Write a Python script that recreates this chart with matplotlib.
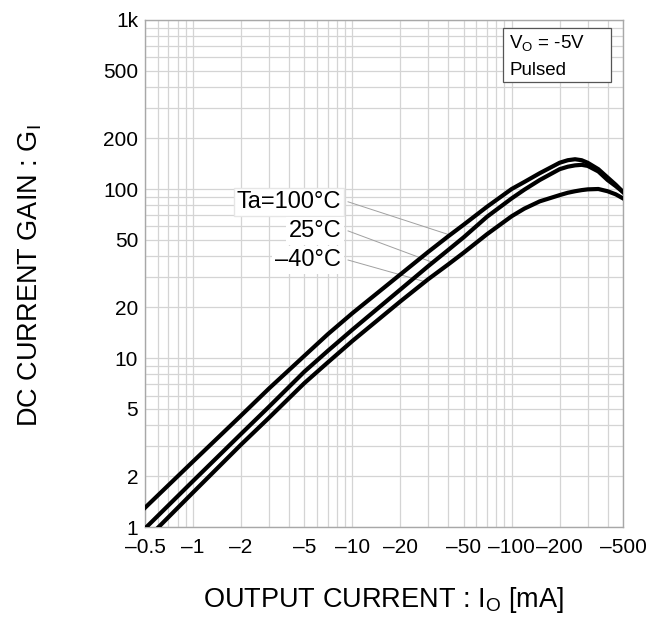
import numpy as np
import matplotlib
matplotlib.use('Agg')
import matplotlib.pyplot as plt
from matplotlib.patches import Rectangle
from matplotlib.ticker import FixedLocator, NullFormatter

plt.rcParams['font.family'] = ['Liberation Sans', 'DejaVu Sans']
plt.rcParams['mathtext.fontset'] = 'custom'
plt.rcParams['mathtext.rm'] = 'Liberation Sans'
plt.rcParams['mathtext.it'] = 'Liberation Sans'

# output current |Io| in mA
io = [0.5, 1, 2, 3, 5, 7, 10, 20, 30, 40, 50, 70, 100, 120, 150, 200,
      225, 250, 275, 300, 350, 400, 450, 500]
gain_100 = [1.3, 2.44, 4.56, 6.6, 10.3, 13.8, 18.4, 31.2, 42.5, 52.5, 61.5, 78.5, 100, 110,
            124, 143, 148, 150, 148, 143, 131, 117, 106, 96]
gain_25 = [0.98, 1.87, 3.55, 5.15, 8.3, 11.0, 14.7, 25.4, 35.0, 43.6, 51.8, 68.5, 88, 99,
           113, 131, 135.5, 138, 139, 137, 127, 113, 104, 96]
gain_m40 = [0.83, 1.6, 3.07, 4.43, 7.1, 9.4, 12.6, 21.6, 29.3, 35.8, 42, 54, 69, 76.5,
            84.5, 92, 95, 97, 98.5, 99.5, 100, 97, 93, 88]

xticks = [0.5, 1, 2, 5, 10, 20, 50, 100, 200, 500]
xlabels = ['–0.5', '–1', '–2', '–5', '–10', '–20', '–50', '–100', '–200', '–500']
yticks = [1, 2, 5, 10, 20, 50, 100, 200, 500, 1000]
ylabels = ['1', '2', '5', '10', '20', '50', '100', '200', '500', '1k']

# label, data, label y, leader target x
series = [('Ta=100°C', gain_100, 84, 41),
          ('25°C', gain_25, 56.5, 32),
          ('–40°C', gain_m40, 38, 28.6)]

fig = plt.figure(figsize=(6.64, 6.19), dpi=100)
ax = fig.add_axes([0.2184, 0.1486, 0.7199, 0.8191])
ax.set_xscale('log')
ax.set_yscale('log')
ax.set_xlim(0.5, 500)
ax.set_ylim(1, 1000)

# grid
minor_x = [m * 10.0 ** e for e in range(-1, 3) for m in range(1, 10)]
minor_y = [m * 10.0 ** e for e in range(0, 3) for m in range(1, 10)]
ax.xaxis.set_minor_locator(FixedLocator(minor_x))
ax.yaxis.set_minor_locator(FixedLocator(minor_y))
ax.xaxis.set_minor_formatter(NullFormatter())
ax.yaxis.set_minor_formatter(NullFormatter())
ax.grid(True, which='minor', color='#d4d4d4', linewidth=0.9)
ax.grid(True, which='major', color='#d4d4d4', linewidth=0.9)
ax.set_axisbelow(True)

ax.set_xticks(xticks)
ax.set_xticklabels(xlabels)
ax.set_yticks(yticks)
ax.set_yticklabels(ylabels)
ax.tick_params(which='both', length=0, labelsize=15)
ax.tick_params(axis='x', pad=8)
ax.tick_params(axis='y', pad=5)
for s in ax.spines.values():
    s.set_color('#a8a8a8')
    s.set_linewidth(1.0)

for name, g, ty, cx in series:
    ax.plot(io, g, color='black', linewidth=3.0, zorder=4, solid_joinstyle='round')
    cy = 10 ** np.interp(np.log10(cx), np.log10(io), np.log10(g))
    ax.plot([9.4, cx], [ty, cy], color='#a0a0a0', linewidth=0.7, zorder=3)

# curve labels with white backing
ax.text(8.5, 84, 'Ta=100°C', ha='right', va='center', fontsize=17, zorder=5,
        bbox=dict(facecolor='white', edgecolor='#e6e6e6', pad=2.0))
ax.text(8.5, 56.5, '25°C', ha='right', va='center', fontsize=17, zorder=5,
        bbox=dict(facecolor='white', edgecolor='none', pad=2.0))
ax.text(8.5, 38, '–40°C', ha='right', va='center', fontsize=17, zorder=5,
        bbox=dict(facecolor='white', edgecolor='none', pad=2.0))

# condition box
ax.add_patch(Rectangle((0.749, 0.877), 0.226, 0.107, transform=ax.transAxes,
                       facecolor='white', edgecolor='#555555', linewidth=0.9, zorder=5))
ax.text(0.762, 0.954, 'V$_\\mathrm{O}$ = -5V', transform=ax.transAxes,
        ha='left', va='center', fontsize=13.5, zorder=6)
ax.text(0.762, 0.901, 'Pulsed', transform=ax.transAxes,
        ha='left', va='center', fontsize=13.5, zorder=6)

fig.text(0.578, 0.03, 'OUTPUT CURRENT : I$_\\mathrm{O}$ [mA]', ha='center',
         va='center', fontsize=19.5)
fig.text(0.045, 0.555, 'DC CURRENT GAIN : G$_\\mathrm{I}$', ha='center',
         va='center', rotation=90, fontsize=19.5)

fig.savefig('out.png', dpi=100)
